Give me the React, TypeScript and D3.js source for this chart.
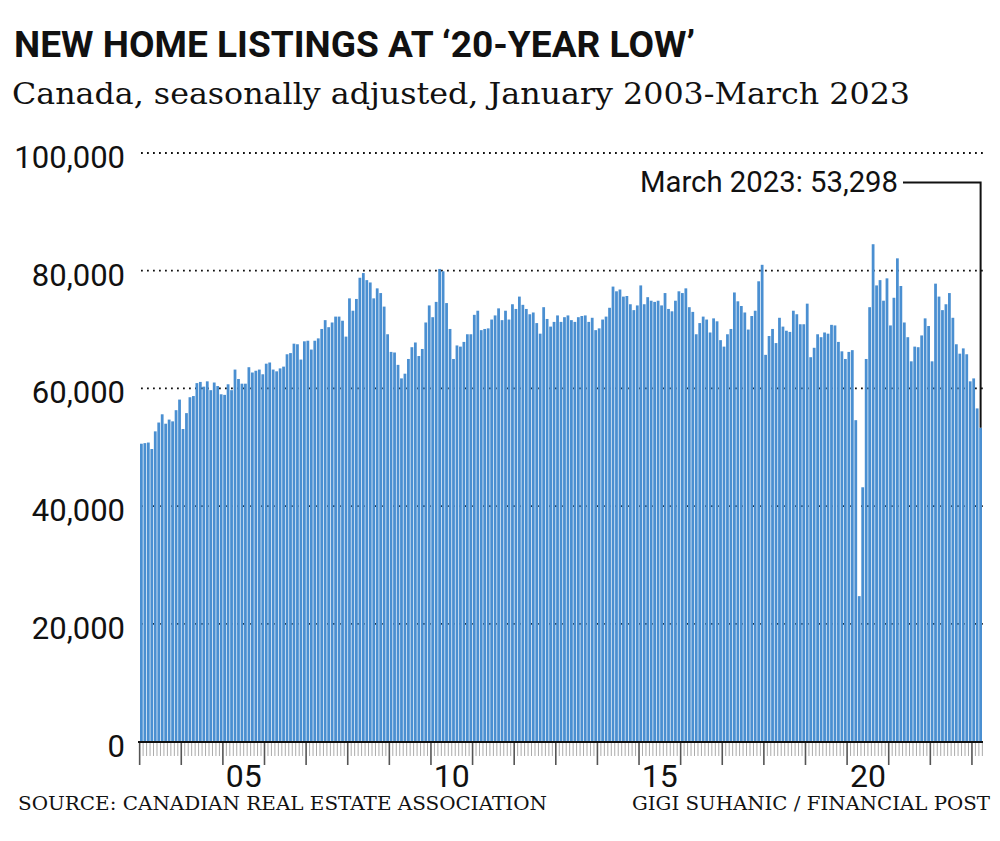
import * as d3 from "d3";

// New listings, Canada, seasonally adjusted, Jan 2003 - Mar 2023 (monthly)
const startYear = 2003;
const listings: number[] = [
  // 2003
  50600, 50700, 50800, 49700, 52700, 54200, 55600, 54000, 54700, 54400, 56300, 58100,
  // 2004
  53100, 55800, 58500, 58700, 60900, 61100, 60300, 61200, 59700, 61000, 60400, 59000,
  // 2005
  58900, 60700, 59700, 63200, 61600, 60800, 60800, 63600, 62700, 63000, 63200, 62400,
  // 2006
  64200, 64400, 63200, 62900, 63400, 63700, 65800, 66000, 67600, 67500, 64900, 68000,
  // 2007
  68100, 66600, 68100, 68500, 70100, 71600, 70400, 71200, 72200, 72200, 71500, 68800,
  // 2008
  75300, 73200, 75200, 78800, 79600, 78400, 78000, 75300, 77000, 76200, 73900, 69200,
  // 2009
  66200, 66100, 64000, 61700, 62500, 65000, 67000, 67800, 65500, 66700, 71200, 74100,
  // 2010
  72100, 74700, 80300, 79900, 74500, 70100, 65000, 67300, 67100, 67900, 69200, 69200,
  // 2011
  72500, 73200, 69900, 70100, 70200, 71700, 72400, 73600, 71600, 73200, 71700, 74300,
  // 2012
  73500, 75600, 74200, 73500, 72600, 72900, 71100, 69300, 73800, 71800, 70500, 71300,
  // 2013
  72400, 71300, 72100, 72400, 71600, 71300, 72100, 72300, 72400, 71300, 72000, 69900,
  // 2014
  70200, 71700, 72200, 73700, 77300, 76500, 76800, 75600, 75700, 74300, 73300, 74100,
  // 2015
  77500, 74300, 75500, 74900, 74700, 74900, 74100, 76200, 73500, 73100, 74900, 76500,
  // 2016
  76200, 77000, 73800, 73000, 69200, 71100, 72200, 71700, 69500, 71900, 71400, 68200,
  // 2017
  67100, 69200, 70100, 76300, 74800, 74000, 72900, 70000, 72300, 73200, 78200, 81000,
  // 2018
  65700, 68900, 70100, 67700, 72000, 70500, 69800, 69600, 73200, 72600, 70900, 70900,
  // 2019
  74400, 65300, 66900, 69200, 68700, 69500, 69300, 70800, 70700, 67900, 66300, 65000,
  // 2020
  66200, 66500, 54600, 24700, 43200, 65000, 73800, 84500, 77500, 78400, 74900, 78700,
  // 2021
  70700, 75400, 82100, 77400, 71200, 68700, 64600, 67100, 67000, 69000, 71900, 70600,
  // 2022
  64600, 77800, 75600, 73300, 74300, 76200, 72000, 67500, 65900, 66800, 65800, 61200,
  // 2023
  61700, 56600, 53298,
];

const yTicks = [0, 20000, 40000, 60000, 80000, 100000];
const labelYears = [2005, 2010, 2015, 2020];
const lastLabel = "March 2023: 53,298";

const title = "NEW HOME LISTINGS AT \u201820-YEAR LOW\u2019";
const subtitle = "Canada, seasonally adjusted, January 2003-March 2023";
const source = "SOURCE: CANADIAN REAL ESTATE ASSOCIATION";
const credit = "GIGI SUHANIC / FINANCIAL POST";

const W = 1000;
const H = 841;

export default function App() {
  const idx = d3.range(listings.length);

  const x = d3
    .scaleBand<number>()
    .domain(idx)
    .range([140, 982])
    .paddingInner(0.2)
    .paddingOuter(0);

  const y = d3.scaleLinear().domain([0, 100000]).range([741.5, 153]);

  const bw = x.bandwidth();
  const gap = (x.step() * x.paddingInner()) / 2;
  // tick positions at month boundaries
  const boundaries = d3.range(listings.length + 1).map((i) =>
    i < listings.length ? (x(i) as number) - gap : (x(i - 1) as number) + bw + gap
  );

  const lastI = listings.length - 1;
  const lastX = (x(lastI) as number) + bw / 2;
  const lastY = y(listings[lastI]);

  return (
    <svg
      width={W}
      height={H}
      style={{ position: "absolute", left: 0, top: 0, background: "#fff" }}
    >
      {/* Title */}
      <text
        x={14}
        y={57}
        fontFamily="Roboto, sans-serif"
        fontWeight={700}
        fontSize={37}
        textLength={681}
        lengthAdjust="spacingAndGlyphs"
        fill="#111"
      >
        {title}
      </text>
      <text
        x={12}
        y={104}
        fontFamily="'DejaVu Serif', serif"
        fontSize={29}
        textLength={898}
        lengthAdjust="spacingAndGlyphs"
        fill="#111"
      >
        {subtitle}
      </text>

      {/* Grid lines */}
      {yTicks
        .filter((t) => t > 0)
        .map((t) => (
          <line
            key={t}
            x1={141}
            x2={987}
            y1={y(t)}
            y2={y(t)}
            stroke="#111"
            strokeWidth={1.8}
            strokeDasharray="1.8 4.2"
          />
        ))}

      {/* Y labels */}
      {yTicks.map((t) => (
        <text
          key={t}
          x={125}
          y={y(t) + 15}
          textAnchor="end"
          fontFamily="Roboto, sans-serif"
          fontWeight={400}
          fontSize={31}
          fill="#111"
        >
          {d3.format(",")(t)}
        </text>
      ))}

      {/* Bars */}
      {listings.map((v, i) => (
        <rect
          key={i}
          x={x(i)}
          y={y(v)}
          width={bw}
          height={y(0) - y(v)}
          fill="#4a8fd1"
        />
      ))}

      {/* Month ticks */}
      {boundaries.map((bx, i) => {
        const major = i % 12 === 0;
        return (
          <line
            key={i}
            x1={bx}
            x2={bx}
            y1={742}
            y2={major ? 765 : 756}
            stroke={major ? "#555" : "#aaa"}
            strokeWidth={major ? 1.6 : 1}
          />
        );
      })}
      <line x1={138} x2={983} y1={742} y2={742} stroke="#111" strokeWidth={2} />

      {/* Year labels */}
      {labelYears.map((yr) => {
        const s = (yr - startYear) * 12;
        const cx = ((x(s) as number) + (x(s + 11) as number) + bw) / 2;
        return (
          <text
            key={yr}
            x={cx}
            y={787}
            textAnchor="middle"
            fontFamily="Roboto, sans-serif"
            fontWeight={400}
            fontSize={32}
            fill="#111"
          >
            {String(yr).slice(2)}
          </text>
        );
      })}

      {/* Annotation */}
      <text
        x={898}
        y={192}
        textAnchor="end"
        fontFamily="Roboto, sans-serif"
        fontWeight={400}
        fontSize={30}
        textLength={258}
        lengthAdjust="spacingAndGlyphs"
        fill="#111"
      >
        {lastLabel}
      </text>
      <path
        d={`M903,182.5H${lastX}V${lastY}`}
        fill="none"
        stroke="#111"
        strokeWidth={2}
      />

      {/* Footer */}
      <text
        x={18}
        y={810}
        fontFamily="'DejaVu Serif', serif"
        fontSize={19}
        textLength={529}
        lengthAdjust="spacingAndGlyphs"
        fill="#111"
      >
        {source}
      </text>
      <text
        x={990}
        y={810}
        textAnchor="end"
        fontFamily="'DejaVu Serif', serif"
        fontSize={19}
        textLength={358}
        lengthAdjust="spacingAndGlyphs"
        fill="#111"
      >
        {credit}
      </text>
    </svg>
  );
}
